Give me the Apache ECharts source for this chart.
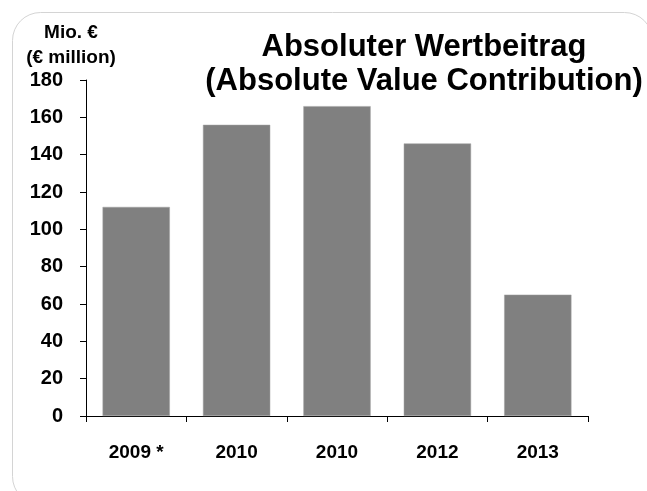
<!DOCTYPE html>
<html>
<head>
<meta charset="utf-8">
<script src="https://cdn.jsdelivr.net/npm/echarts@6/dist/echarts.min.js"></script>
<style>
  html, body { margin: 0; padding: 0; background: #ffffff; }
  #chart { width: 647px; height: 491px; }
</style>
</head>
<body>
<div id="chart"></div>
<script>
// Absolute value contribution per year, in € million
const categories = ['2009 *', '2010', '2010', '2012', '2013'];
const values = [112, 156, 166, 146, 65];
const yTicks = { min: 0, max: 180, interval: 20 };

const titleLines = ['Absoluter Wertbeitrag', '(Absolute Value Contribution)'];
const unitLines = ['Mio. €', '(€ million)'];

const FONT = '"Liberation Sans", Arial, sans-serif';

const chart = echarts.init(document.getElementById('chart'), null, { renderer: 'canvas' });

chart.setOption({
  backgroundColor: '#ffffff',
  animation: false,
  graphic: [
    {
      type: 'rect',
      shape: { x: 12.5, y: 12.5, width: 640, height: 492, r: 28 },
      style: { fill: 'none', stroke: '#d4d4d4', lineWidth: 1 },
      silent: true,
      z: 0
    },
    {
      type: 'text',
      silent: true,
      style: {
        text: titleLines.join('\n'),
        x: 424, y: 30,
        textAlign: 'center',
        textVerticalAlign: 'top',
        font: 'bold 31px ' + FONT,
        lineHeight: 34,
        fill: '#000000'
      }
    },
    {
      type: 'text',
      silent: true,
      style: {
        text: unitLines.join('\n'),
        x: 71, y: 20,
        textAlign: 'center',
        textVerticalAlign: 'top',
        font: 'bold 19px ' + FONT,
        lineHeight: 25,
        fill: '#000000'
      }
    }
  ],
  grid: { left: 86, right: 59, top: 80, bottom: 75, containLabel: false },
  xAxis: {
    type: 'category',
    data: categories,
    boundaryGap: true,
    axisLine: { show: true, lineStyle: { color: '#000000', width: 1 } },
    axisTick: { show: true, length: 6, alignWithLabel: false, lineStyle: { color: '#000000' } },
    axisLabel: {
      color: '#000000',
      fontFamily: FONT,
      fontWeight: 'bold',
      fontSize: 19,
      margin: 27
    },
    splitLine: { show: false }
  },
  yAxis: {
    type: 'value',
    min: yTicks.min,
    max: yTicks.max,
    interval: yTicks.interval,
    axisLine: { show: true, lineStyle: { color: '#000000', width: 1 } },
    axisTick: { show: true, length: 6, inside: false, lineStyle: { color: '#000000' } },
    axisLabel: {
      color: '#000000',
      fontFamily: FONT,
      fontWeight: 'bold',
      fontSize: 20,
      margin: 23
    },
    splitLine: { show: false }
  },
  series: [
    {
      type: 'bar',
      data: values,
      barCategoryGap: '33%',
      itemStyle: { color: '#808080', borderColor: '#a0a0a0', borderWidth: 0.5 }
    }
  ]
});
</script>
</body>
</html>
